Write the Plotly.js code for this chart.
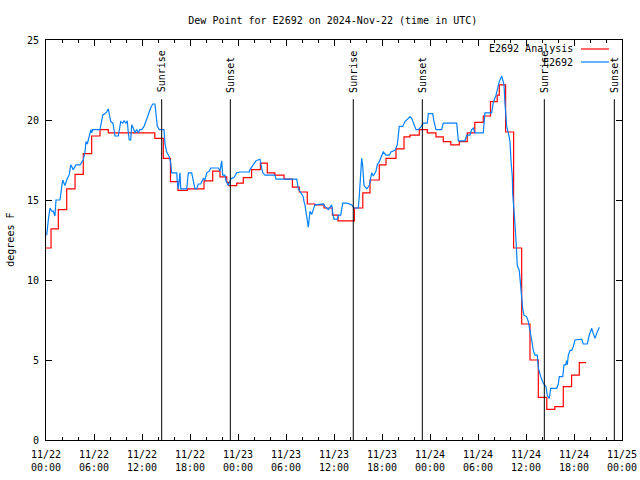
<!DOCTYPE html>
<html>
<head>
<meta charset="utf-8">
<script src="https://cdn.plot.ly/plotly-3.0.1.min.js"></script>
<style>html,body{margin:0;padding:0;background:#fff;}#chart{width:640px;height:480px;}</style>
</head>
<body>
<div id="chart"></div>
<script>
// Hours since 2024-11-22 00:00 UTC and dew point (deg F)
var obsHours = [0.09,0.16,0.29,0.5,0.71,0.91,1.12,1.25,1.75,1.96,2.09,2.37,2.59,2.91,3.09,3.41,3.75,4.25,4.46,4.66,4.87,5.0,5.16,5.29,5.5,5.62,5.71,5.84,6.75,6.87,7.09,7.37,7.59,7.79,7.91,8.09,8.37,8.5,8.62,9.04,9.16,9.34,9.59,9.75,10.0,10.16,10.29,10.41,10.59,10.71,10.91,11.12,11.34,11.54,11.75,11.96,12.25,12.5,12.66,12.91,13.12,13.34,13.62,13.75,13.91,14.16,14.75,14.87,15.09,15.41,15.59,15.71,16.34,16.41,16.54,16.75,16.84,17.04,17.59,17.79,18.21,18.62,18.84,19.04,19.34,19.66,19.87,20.09,20.41,20.59,21.54,21.75,21.96,22.09,22.37,22.5,22.66,22.79,23.09,23.21,23.5,23.84,24.25,25.41,25.5,25.71,25.91,26.25,26.75,26.87,27.09,27.37,28.62,28.75,31.34,31.54,31.96,32.16,32.25,32.37,32.59,32.79,33.0,33.21,33.41,33.62,34.66,34.87,35.29,35.71,35.84,36.0,36.41,36.54,36.84,37.09,37.59,38.0,38.21,38.5,39.04,39.16,39.34,39.46,39.59,39.75,40.09,40.41,40.71,40.91,41.25,41.41,41.66,41.96,42.16,42.5,42.91,43.12,43.62,43.91,44.04,44.16,44.59,44.87,45.29,45.5,45.71,46.0,46.25,46.54,46.84,47.16,47.66,47.79,48.34,48.5,48.75,49.46,49.66,51.34,51.54,52.37,52.59,53.0,53.21,53.41,53.62,54.66,54.87,55.71,55.91,56.25,56.66,56.96,57.09,57.25,57.37,57.5,57.59,57.79,58.0,58.12,58.29,58.34,58.5,58.62,58.75,58.91,59.16,59.25,59.34,59.46,59.59,59.75,60.09,60.29,60.41,60.59,60.71,60.91,61.12,61.41,61.54,61.84,62.16,62.5,62.66,62.91,63.09,63.84,64.04,64.16,64.59,64.75,64.96,65.09,65.16,65.29,65.5,65.71,65.91,66.12,66.96,67.16,67.66,67.91,68.21,68.41,68.62,68.87,69.16];
var obsDew = [12.8,13.3,13.75,14.5,14.3,14.3,14.0,15.0,15.0,15.8,16.25,15.9,16.25,16.6,17.2,16.9,17.2,17.2,17.4,17.5,18.0,18.65,18.5,18.75,19.2,19.4,19.2,19.4,19.4,19.8,20.3,20.4,20.5,20.7,20.4,19.9,19.8,19.4,19.0,19.0,19.4,19.9,19.8,19.95,19.8,19.95,19.2,18.75,18.75,19.7,19.5,19.2,19.4,19.2,19.4,19.4,19.6,19.9,20.1,20.5,20.8,21.0,21.0,20.1,19.6,19.4,19.4,18.5,18.0,17.7,17.3,16.7,16.7,16.15,15.7,16.7,15.7,15.7,15.7,16.7,16.7,15.7,15.7,16.0,16.0,16.35,16.25,16.7,16.8,17.0,17.0,16.8,17.45,16.55,16.55,16.2,16.0,15.9,16.3,16.35,16.4,16.7,16.75,16.75,16.9,17.05,17.15,17.45,17.55,17.3,16.7,16.55,16.55,16.3,16.3,15.7,15.3,15.2,14.9,14.7,13.96,13.3,14.3,14.1,14.4,14.7,14.75,14.6,14.4,14.7,14.2,13.8,13.8,14.06,14.06,14.8,14.8,14.75,14.7,14.5,14.5,15.25,16.9,17.6,17.1,15.9,15.7,15.9,16.7,16.5,16.8,17.2,17.4,17.8,18.0,17.8,17.8,18.0,18.1,18.45,19.05,19.6,19.6,19.9,20.1,20.2,20.1,19.7,19.4,19.4,19.55,19.8,19.8,20.4,20.4,19.9,19.4,19.4,19.8,19.8,18.7,18.7,19.05,19.05,19.4,19.5,19.2,19.2,20.45,20.45,21.1,21.55,22.4,22.75,22.5,22.2,21.05,20.2,19.6,19.2,18.65,17.5,16.45,15.4,14.5,13.5,12.5,10.9,10.6,10.0,9.4,8.85,8.2,7.8,7.7,7.4,7.1,6.7,6.25,5.6,5.3,5.3,4.5,3.96,3.55,3.33,2.8,2.6,3.23,3.23,3.5,3.96,3.96,4.7,4.7,4.96,4.7,5.3,5.6,5.6,5.83,6.25,6.3,6.0,6.0,6.56,6.98,6.65,6.35,6.7,7.04];

var anaHours = [0,0.63,1.54,2.59,3.63,4.66,5.71,6.75,7.79,13.6,14.66,15.56,16.5,17.66,19.75,20.84,21.75,22.6,22.8,23.84,24.66,25.7,26.8,27.66,28.6,29.75,30.8,31.66,32.66,33.6,34.75,35.8,36.5,38.55,39.6,40.5,41.66,42.5,43.75,44.75,45.5,46.66,47.66,48.75,49.66,50.6,51.66,52.66,53.6,54.66,55.56,56.4,56.66,57.45,58.45,59.46,60.5,61.54,62.6,63.6,64.66,65.7,66.66,67.5];
var anaDew = [12.0,13.2,14.4,15.7,16.6,17.9,19.0,19.4,19.2,18.85,17.6,16.15,15.6,15.7,16.2,16.8,16.45,16.1,15.9,16.05,16.4,16.9,17.3,16.7,16.55,16.3,15.8,15.5,14.75,14.7,14.5,14.06,13.7,14.5,15.45,16.25,17.2,17.6,18.2,18.95,19.05,19.4,19.2,18.95,18.65,18.45,18.65,19.2,19.85,20.25,21.15,21.55,22.2,19.25,12.0,7.25,5.0,2.67,1.92,2.08,3.33,4.06,4.83,4.83];

var eventHours = [14.46,23.04,38.41,47.04,62.29,71.04];
var eventLabels = ["Sunrise","Sunset","Sunrise","Sunset","Sunrise","Sunset"];

var seriesNames = ["E2692 Analysis","E2692"];
var seriesColors = ["#ff0000","#0080ff"];

var base = Date.UTC(2024,10,22,0,0,0);
function toMs(h){ return base + h*3600000; }

var FONT = "DejaVu Sans Mono, monospace";

var traces = [
  {x: anaHours.map(toMs), y: anaDew, type:'scatter', mode:'lines', line:{color:seriesColors[0], width:1.2, shape:'hv'}, name:seriesNames[0], showlegend:false},
  {x: obsHours.map(toMs), y: obsDew, type:'scatter', mode:'lines', line:{color:seriesColors[1], width:1.2}, name:seriesNames[1], showlegend:false}
];

var shapes = [];
var annotations = [];
eventHours.forEach(function(h,i){
  shapes.push({type:'line', xref:'x', yref:'y', x0:toMs(h), x1:toMs(h), y0:0, y1:21.3, line:{color:'#000', width:1}});
  annotations.push({xref:'x', yref:'y', x:toMs(h), y:21.65, text:eventLabels[i], textangle:-90, showarrow:false, xanchor:'center', yanchor:'bottom', font:{family:FONT, size:10, color:'#000'}, borderpad:0});
});
// legend (gnuplot style: text then line sample)
var legY = [0.9775, 0.945];
seriesNames.forEach(function(n,i){
  annotations.push({xref:'paper', yref:'paper', x:0.917, y:legY[i], text:n, showarrow:false, xanchor:'right', yanchor:'middle', font:{family:FONT, size:10, color:'#000'}, borderpad:0});
  shapes.push({type:'line', xref:'paper', yref:'paper', x0:0.9288, x1:0.9774, y0:legY[i], y1:legY[i], line:{color:seriesColors[i], width:1.2}});
});
annotations.push({xref:'paper', yref:'paper', x:-0.063, y:0.5, text:'degrees F', textangle:-90, showarrow:false, xanchor:'center', yanchor:'middle', font:{family:FONT, size:10, color:'#000'}});

var layout = {
  width:640, height:480,
  margin:{l:46, r:18, t:40, b:40, pad:0},
  paper_bgcolor:'#fff', plot_bgcolor:'#fff',
  title:{text:'Dew Point for E2692 on 2024-Nov-22 (time in UTC)', font:{family:FONT, size:10, color:'#000'}, x:0.52, xanchor:'center', y:0.958, yanchor:'middle'},
  showlegend:false,
  xaxis:{type:'date', range:[toMs(0), toMs(72)], tick0:toMs(0), dtick:6*3600000, tickformat:'%m/%d<br>%H:%M',
    ticks:'inside', ticklen:6, tickcolor:'#000', tickwidth:1, showline:true, linecolor:'#000', linewidth:1, mirror:'ticks',
    showgrid:false, zeroline:false, tickfont:{family:FONT, size:10, color:'#000'}, ticklabelstandoff:5,
    minor:{dtick:2*3600000, tick0:toMs(0), ticks:'inside', ticklen:3, tickcolor:'#000', showgrid:false}},
  yaxis:{range:[0,25], dtick:5, tick0:0, ticks:'inside', ticklen:6, tickcolor:'#000', tickwidth:1, showline:true, linecolor:'#000', linewidth:1, mirror:'ticks',
    showgrid:false, zeroline:false, tickfont:{family:FONT, size:10, color:'#000'}, ticklabelstandoff:4},
  shapes:shapes,
  annotations:annotations
};

Plotly.newPlot('chart', traces, layout, {staticPlot:true, displayModeBar:false});
</script>
</body>
</html>
